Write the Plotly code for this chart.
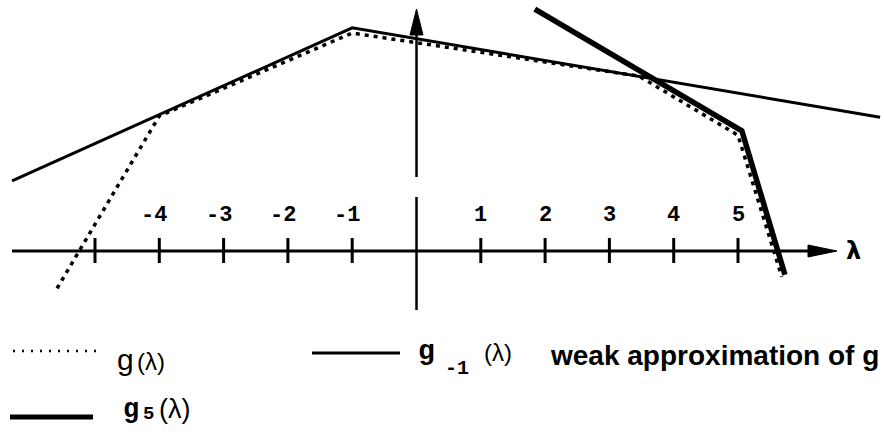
import plotly.graph_objects as go

# Piecewise-linear curves (lambda, value)
g_lam = [-5.59, -4.0, -1.0, 3.46, 5.0, 5.68]
g_val = [-0.58, 2.10, 3.39, 2.72, 1.80, -0.40]

gm1_lam = [-6.29, -1.0, 7.21]
gm1_val = [1.09, 3.47, 2.08]

g5_lam = [1.84, 5.06, 5.73]
g5_val = [3.76, 1.87, -0.37]

tick_values = [-5, -4, -3, -2, -1, 1, 2, 3, 4, 5]
tick_labels = ["", "-4", "-3", "-2", "-1", "1", "2", "3", "4", "5"]

W, H = 884, 432
# pixel placement of the lambda axis inside the page
X0, Y0, S = 416.5, 251.0, 64.3
x_range = [(0 - X0) / S, (W - X0) / S]
y_range = [(Y0 - H) / S, Y0 / S]


def dx(px):
    return (px - X0) / S


def dy(py):
    return (Y0 - py) / S


def px_(px):
    return px / W


def py_(py):
    return 1 - py / H


fig = go.Figure()

fig.add_trace(go.Scatter(x=gm1_lam, y=gm1_val, mode="lines",
                         line=dict(color="black", width=3), hoverinfo="skip"))
fig.add_trace(go.Scatter(x=g_lam, y=g_val, mode="lines",
                         line=dict(color="black", width=3.5, dash="4px,5px"),
                         hoverinfo="skip"))
fig.add_trace(go.Scatter(x=g5_lam, y=g5_val, mode="lines",
                         line=dict(color="black", width=5.5), hoverinfo="skip"))

shapes = []
# horizontal lambda axis with arrow
shapes.append(dict(type="line", xref="x", yref="y", x0=dx(12), x1=dx(812), y0=0, y1=0,
                   line=dict(color="black", width=3)))
shapes.append(dict(type="path", xref="x", yref="y",
                   path=f"M {dx(808)} {dy(245)} L {dx(837)} 0 L {dx(808)} {dy(257)} Z",
                   fillcolor="black", line=dict(color="black", width=1)))
# vertical axis (drawn in two pieces) with arrow
shapes.append(dict(type="line", xref="x", yref="y", x0=0, x1=0, y0=dy(310), y1=dy(197),
                   line=dict(color="black", width=2.5)))
shapes.append(dict(type="line", xref="x", yref="y", x0=0, x1=0, y0=dy(177), y1=dy(30),
                   line=dict(color="black", width=2.5)))
shapes.append(dict(type="path", xref="x", yref="y",
                   path=f"M {dx(410)} {dy(35)} L 0 {dy(9)} L {dx(423)} {dy(35)} Z",
                   fillcolor="black", line=dict(color="black", width=1)))
# tick marks
for t in tick_values:
    shapes.append(dict(type="line", xref="x", yref="y", x0=t, x1=t, y0=dy(238), y1=dy(263),
                       line=dict(color="black", width=3)))

# legend samples
shapes.append(dict(type="line", xref="paper", yref="paper", x0=px_(13), x1=px_(98),
                   y0=py_(351), y1=py_(351),
                   line=dict(color="black", width=2.5, dash="2px,7px")))
shapes.append(dict(type="line", xref="paper", yref="paper", x0=px_(312), x1=px_(400),
                   y0=py_(353), y1=py_(353), line=dict(color="black", width=3)))
shapes.append(dict(type="line", xref="paper", yref="paper", x0=px_(10), x1=px_(93),
                   y0=py_(417), y1=py_(417), line=dict(color="black", width=5)))

annotations = []
for t, lab in zip(tick_values, tick_labels):
    if not lab:
        continue
    annotations.append(dict(x=t, y=dy(215), xref="x", yref="y", text=f"<b>{lab}</b>",
                            showarrow=False, xshift=-5 if t < 0 else 0,
                            font=dict(family="Liberation Mono", size=22, color="black")))
annotations.append(dict(x=dx(853), y=dy(251), xref="x", yref="y", text="<b>λ</b>",
                        showarrow=False, font=dict(family="DejaVu Sans", size=24, color="black")))


def txt(px, py, s, family, size, anchor="left"):
    annotations.append(dict(x=px_(px), y=py_(py), xref="paper", yref="paper", text=s,
                            showarrow=False, xanchor=anchor, yanchor="middle",
                            font=dict(family=family, size=size, color="black")))


SANS = "Liberation Sans"
MONO = "Liberation Mono"
# row 1, left
txt(115, 359, "g", SANS, 30)
txt(135, 361, "(λ)", SANS, 24)
# row 1, right
txt(416, 351, "<b>g</b>", MONO, 28)
txt(443, 368, "<b>-1</b>", MONO, 20)
txt(482, 352, "(λ)", SANS, 24)
txt(548, 355, "<b>weak approximation of g</b>", SANS, 28)
# row 2
txt(121, 410, "<b>g</b>", MONO, 27)
txt(141, 414, "<b>5</b>", MONO, 19)
txt(157, 409, "(λ)", SANS, 27)

fig.update_layout(
    width=W, height=H, margin=dict(l=0, r=0, t=0, b=0),
    paper_bgcolor="white", plot_bgcolor="white", showlegend=False,
    xaxis=dict(range=x_range, visible=False, fixedrange=True),
    yaxis=dict(range=y_range, visible=False, fixedrange=True),
    shapes=shapes, annotations=annotations,
)

fig.write_html("out.html")
